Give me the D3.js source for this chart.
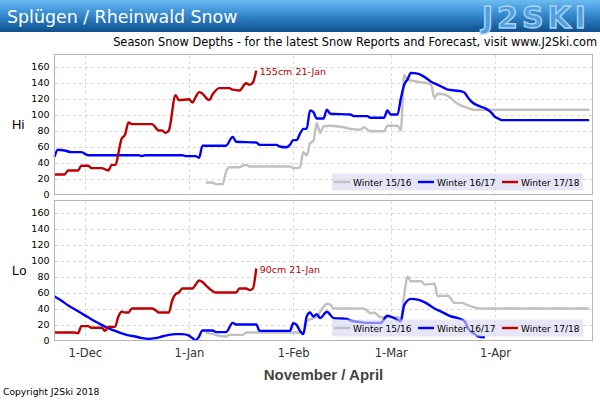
<!doctype html>
<html lang="en">
<head>
<meta charset="utf-8">
<style>
body{margin:0;background:#fff;}
svg{display:block;}
text{font-family:"DejaVu Sans",sans-serif;}
</style>
</head>
<body>
<div id="grafico"></div>
<script src="https://d3js.org/d3.v7.min.js"></script>
<script>

// season axis runs 22-Nov to 30-Apr (dates given as MM-DD)
var dominio = ["11-22","04-30"];
var meses = ["12-01","01-01","02-01","03-01","04-01"];
var valoresY = [0,20,40,60,80,100,120,140,160];
var temporadas = ["Winter 15/16","Winter 16/17","Winter 17/18"];
var colores = ["#c0c0c0","#0000ff","#c00000"];

// Hi
var hi1516 = [["01-06",15],["01-08",15],["01-09",13],["01-11",13],["01-12",28],["01-13",34],["01-16",34],["01-17",36],["01-18",37],["01-19",35],["01-31",35],["02-01",33],["02-02",33],["02-03",34],["02-04",53],["02-05",49],["02-06",64],["02-07",67],["02-08",89],["02-09",77],["02-10",85],["02-12",86],["02-16",84],["02-18",82],["02-21",81],["02-22",84],["02-24",79],["02-28",79],["02-29",86],["03-03",86],["03-04",80],["03-05",149],["03-06",144],["03-09",141],["03-12",139],["03-13",137],["03-14",121],["03-15",126],["03-17",125],["03-19",120],["03-20",116],["03-22",111],["03-24",108],["03-26",106],["04-29",106]];
var hi1617 = [["11-22",47],["11-23",56],["11-25",55],["11-27",53],["11-30",53],["12-02",49],["12-17",49],["12-18",48],["12-19",49],["12-30",49],["12-31",48],["01-03",48],["01-04",46],["01-05",61],["01-12",61],["01-14",72],["01-15",66],["01-21",65],["01-22",62],["01-27",62],["01-28",60],["01-30",59],["01-31",62],["02-01",68],["02-02",68],["02-03",76],["02-04",82],["02-05",82],["02-06",105],["02-07",103],["02-08",95],["02-10",95],["02-11",106],["02-12",101],["02-18",100],["02-19",98],["02-23",98],["02-24",96],["02-28",96],["02-29",105],["03-01",100],["03-03",100],["03-04",120],["03-05",137],["03-06",144],["03-07",152],["03-09",151],["03-11",147],["03-13",141],["03-15",137],["03-17",133],["03-18",131],["03-20",130],["03-22",129],["03-23",127],["03-24",121],["03-25",116],["03-27",111],["03-29",108],["03-31",102],["04-01",97],["04-02",95],["04-03",93],["04-29",93]];
var hi1718 = [["11-22",25],["11-25",25],["11-26",30],["11-29",30],["11-30",36],["12-02",36],["12-03",33],["12-06",33],["12-08",30],["12-09",37],["12-10",37],["12-12",70],["12-13",75],["12-14",90],["12-15",88],["12-21",88],["12-23",80],["12-24",80],["12-25",77],["12-26",80],["12-28",124],["12-29",118],["01-01",119],["01-02",115],["01-03",122],["01-04",128],["01-05",126],["01-07",118],["01-08",125],["01-10",133],["01-13",133],["01-14",131],["01-16",130],["01-18",139],["01-19",137],["01-20",140],["01-21",155]];

// Lo
var lo1516 = [["01-06",10],["01-08",8],["01-10",6],["01-12",5],["01-13",7],["01-17",7],["01-18",10],["02-04",10],["02-05",24],["02-07",28],["02-08",30],["02-10",42],["02-11",46],["02-12",45],["02-13",40],["02-22",40],["02-23",37],["02-24",34],["02-25",35],["02-27",29],["03-03",29],["03-04",27],["03-05",57],["03-06",80],["03-07",74],["03-10",74],["03-11",70],["03-14",71],["03-15",55],["03-16",56],["03-18",56],["03-20",47],["03-22",47],["03-24",44],["03-28",40],["04-29",40]];
var lo1617 = [["11-22",55],["11-24",50],["11-26",44],["11-28",39],["11-30",34],["12-02",29],["12-04",24],["12-06",19.5],["12-08",15.5],["12-10",12],["12-12",9],["12-14",6.5],["12-16",5],["12-18",3],["12-20",2],["12-22",3],["12-24",5],["12-26",7],["12-28",8],["12-30",8],["01-01",6],["01-02",3],["01-03",0.5],["01-04",5],["01-05",12.5],["01-08",12.5],["01-09",10.5],["01-12",10.5],["01-14",22],["01-15",20],["01-21",20],["01-22",12],["01-31",12],["02-01",21.5],["02-02",19.5],["02-03",12],["02-04",8],["02-05",30],["02-06",35],["02-07",30],["02-08",33],["02-09",28],["02-11",36],["02-13",28],["02-17",27],["02-18",25],["02-21",23],["02-23",22],["02-27",22],["02-29",31],["03-02",28],["03-04",24],["03-05",44],["03-07",52],["03-09",51],["03-11",48],["03-14",40],["03-16",36],["03-19",30],["03-21",28],["03-23",24],["03-24",15],["03-26",8],["03-27",5],["03-29",4]];
var lo1718 = [["11-22",10],["11-28",10],["11-29",9],["11-30",18],["12-02",18],["12-03",16],["12-06",16],["12-07",12],["12-08",17],["12-10",17],["12-11",30],["12-12",36],["12-13",35],["12-14",35],["12-15",40],["12-21",40],["12-22",38],["12-23",35],["12-26",35],["12-27",50],["12-28",58],["12-29",60],["12-30",65],["01-02",65],["01-03",70],["01-04",75],["01-05",73],["01-06",69],["01-07",65],["01-09",60],["01-15",60],["01-16",65],["01-18",65],["01-19",63],["01-20",65],["01-21",90]];

var notas = ["155cm 21-Jan","90cm 21-Jan"];

function fecha(s){
	var p = s.split("-");
	var m = +p[0];
	return new Date(m >= 8 ? 2015 : 2016, m-1, +p[1]);
}

var w = 600, h = 400;
var izq = 54.5, der = 592.5;

var svg = d3.select("#grafico").append("svg").attr("width",w).attr("height",h);

// header
var grad = svg.append("defs").append("linearGradient").attr("id","cab").attr("x1",0).attr("y1",0).attr("x2",0).attr("y2",1);
grad.append("stop").attr("offset","0%").attr("stop-color","#6bbcf2");
grad.append("stop").attr("offset","40%").attr("stop-color","#3a90d4");
grad.append("stop").attr("offset","100%").attr("stop-color","#0e4f8f");
svg.append("rect").attr("x",0).attr("y",0).attr("width",w).attr("height",32).attr("fill","url(#cab)");
svg.append("text").text("Splügen / Rheinwald Snow").attr("x",7).attr("y",23).attr("fill","#fff").style("font-size","17.4px");
svg.append("text").text("J2SKI").attr("x",590).attr("y",28).attr("text-anchor","end").attr("fill","#4f9ede").attr("stroke","#a9d3f4").attr("stroke-width",1.4).style("font-size","30px").style("font-weight","bold").style("letter-spacing","4px");
svg.append("text").text("Season Snow Depths - for the latest Snow Reports and Forecast, visit www.J2Ski.com").attr("x",597).attr("y",46).attr("text-anchor","end").attr("fill","#000").style("font-size","11.4px");

var x = d3.scaleTime().domain(dominio.map(fecha)).range([izq,der]);

var paneles = [
	{nombre:"Hi", arriba:54.5, abajo:194.5, series:[hi1516,hi1617,hi1718], nota:notas[0]},
	{nombre:"Lo", arriba:200.5, abajo:340.5, series:[lo1516,lo1617,lo1718], nota:notas[1]}
];

var linea = d3.line().curve(d3.curveMonotoneX);

paneles.forEach(function(p){

	var y = d3.scaleLinear().domain([0,175]).range([p.abajo,p.arriba]);
	var g = svg.append("g");

	g.append("rect").attr("x",izq).attr("y",p.arriba).attr("width",der-izq).attr("height",p.abajo-p.arriba).attr("fill","#fff");

	// grid
	g.selectAll(".gy").data(valoresY.slice(1)).enter().append("line")
		.attr("x1",izq).attr("x2",der).attr("y1",function(d){return Math.round(y(d))+0.5}).attr("y2",function(d){return Math.round(y(d))+0.5})
		.attr("stroke","#d8d8d8").attr("stroke-dasharray","3,3").attr("shape-rendering","crispEdges");
	g.selectAll(".gx").data(meses).enter().append("line")
		.attr("x1",function(d){return Math.round(x(fecha(d)))+0.5}).attr("x2",function(d){return Math.round(x(fecha(d)))+0.5}).attr("y1",p.arriba).attr("y2",p.abajo)
		.attr("stroke","#d8d8d8").attr("stroke-dasharray","3,3").attr("shape-rendering","crispEdges");

	// y axis
	var ejeY = g.append("g").attr("transform","translate("+izq+",0)").call(d3.axisLeft(y).tickValues(valoresY).tickSize(0).tickPadding(5));
	ejeY.select(".domain").remove();
	ejeY.selectAll("text").attr("fill","#000").style("font-size","9.5px").style("font-family","DejaVu Sans");

	g.append("text").text(p.nombre).attr("x",12).attr("y",(p.arriba+p.abajo)/2+4).attr("fill","#000").style("font-size","13px").style("font-family","Liberation Sans");

	// series
	p.series.forEach(function(s,i){
		g.append("path").datum(s).attr("fill","none").attr("stroke",colores[i]).attr("stroke-width",2.4).attr("stroke-linejoin","round")
			.attr("d",linea.x(function(d){return x(fecha(d[0]))}).y(function(d){return y(d[1])}));
	});

	var ultimo = p.series[2][p.series[2].length-1];
	g.append("text").text(p.nota).attr("x",x(fecha(ultimo[0]))+3.5).attr("y",y(ultimo[1])+4).attr("fill","#c00000").style("font-size","9.5px");

	// legend
	var ley = g.append("g").attr("transform","translate(0,"+p.abajo+")");
	ley.append("rect").attr("x",332).attr("y",-21).attr("width",251).attr("height",17).attr("fill","rgba(214,214,242,0.62)");
	var item = ley.selectAll(".item").data(temporadas).enter().append("g").attr("transform",function(d,i){return "translate("+(334+84*i)+",0)"});
	item.append("line").attr("x1",0).attr("x2",16).attr("y1",-12.5).attr("y2",-12.5).attr("stroke",function(d,i){return colores[i]}).attr("stroke-width",2.4);
	item.append("text").text(function(d){return d}).attr("x",19).attr("y",-9).attr("fill","#000").style("font-size","9px");

	// border
	g.append("rect").attr("x",izq).attr("y",p.arriba).attr("width",der-izq).attr("height",p.abajo-p.arriba).attr("fill","none").attr("stroke","#b4b4b4").attr("shape-rendering","crispEdges");

	if (p.nombre == "Lo"){
		var ejeX = g.append("g").attr("transform","translate(0,"+p.abajo+")").call(d3.axisBottom(x).tickValues(meses.map(fecha)).tickFormat(d3.timeFormat("%-d-%b")).tickSize(0).tickPadding(8));
		ejeX.select(".domain").remove();
		ejeX.selectAll("text").attr("fill","#333").style("font-size","11.5px").style("font-family","DejaVu Sans");
	}
});

svg.append("text").text("November / April").attr("x",(izq+der)/2).attr("y",380).attr("text-anchor","middle").attr("fill","#444").style("font-size","15px").style("font-weight","bold").style("font-family","Liberation Sans");
svg.append("text").text("Copyright J2Ski 2018").attr("x",3).attr("y",395).attr("fill","#000").style("font-size","9.2px");

</script>
</body>
</html>
